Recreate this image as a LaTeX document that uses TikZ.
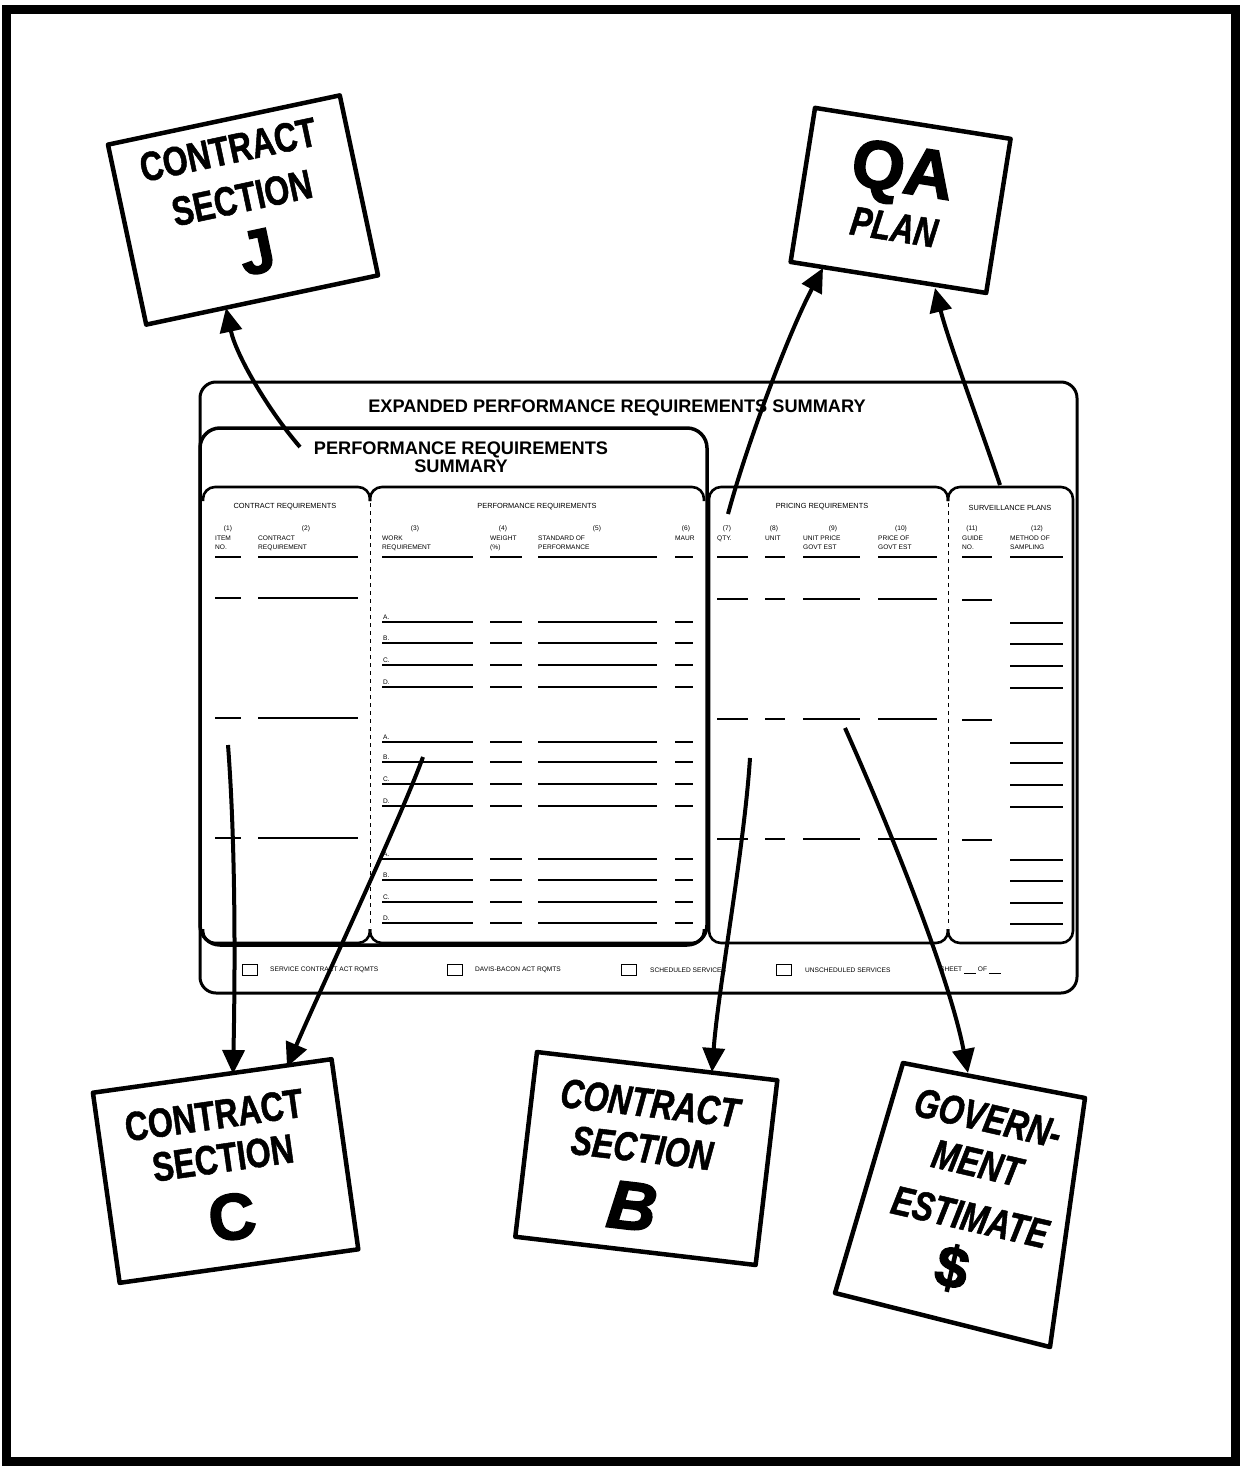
\documentclass[tikz,border=0pt]{standalone}
\usepackage{fontspec}
\setmainfont{Liberation Sans}
\newfontfamily\boxfont[FakeStretch=0.78,FakeBold=1.2]{Liberation Sans}
\newfontfamily\heavyfont[FakeBold=2.5]{Liberation Sans}
\usetikzlibrary{arrows.meta}
\newcommand\tinyf{\fontsize{6.6}{8.6}\selectfont}
\newcommand\hdrf{\fontsize{7.4}{9}\selectfont}
\newcommand\boxtxt{\boxfont\bfseries\fontsize{41}{41}\selectfont}
\tikzset{
  frame/.style={line width=9pt},
  panel/.style={line width=2.6pt, rounded corners=12pt},
  divider/.style={line width=0.6pt, dash pattern=on 4pt off 4pt},
  rowline/.style={line width=2pt},
  hdrline/.style={line width=1.4pt},
  conn/.style={line width=4pt, -{Triangle[length=24pt,width=22pt]}},
  docbox/.style={draw, fill=white, line width=4.5pt, line join=round, inner sep=0pt},
  ttl/.style={font=\fontsize{18.2}{18}\selectfont\bfseries, inner sep=0pt, align=center},
  colnum/.style={font=\tinyf, inner sep=0pt},
  colhdr/.style={font=\tinyf, inner sep=0pt, align=left, anchor=north west},
  panelhdr/.style={font=\hdrf, inner sep=0pt},
  rowlbl/.style={font=\tinyf, inner sep=0pt, anchor=south west},
  cbox/.style={draw, line width=1.5pt, minimum width=15pt, minimum height=11pt, inner sep=0pt},
  cbtxt/.style={font=\tinyf, inner sep=0pt, anchor=west},
  bigtxt/.style={inner sep=0pt, font=\boxtxt},
}
\begin{document}
\begin{tikzpicture}[x=1pt,y=-1pt]
\useasboundingbox (0,0) rectangle (1241,1469);
\fill[white] (0,0) rectangle (1241,1469);
\draw[frame] (6,10) rectangle (1235,1461);
\draw[line width=4pt] (4,10) -- (1237,10);

% ---------------- the form ----------------
\draw[line width=3pt, rounded corners=16pt] (200,382) rectangle (1077,993);
\node[ttl] (title) at (617,408) {EXPANDED PERFORMANCE REQUIREMENTS SUMMARY};
\draw[line width=3.5pt, rounded corners=20pt] (200,428) rectangle (707,945);
\node[ttl] (prs) at (461,457) {PERFORMANCE REQUIREMENTS\\SUMMARY};

% panel brackets
\draw[panel] (203,501) -- (203,487) -- (370,487) -- (370,501);
\draw[panel] (370,501) -- (370,487) -- (704,487) -- (704,501);
\draw[panel] (203,929) -- (203,943) -- (370,943) -- (370,929);
\draw[panel] (370,929) -- (370,943) -- (704,943) -- (704,929);
\draw[panel] (948,501) -- (948,487) -- (709,487) -- (709,943) -- (948,943) -- (948,929);
\draw[panel] (948,501) -- (948,487) -- (1073,487) -- (1073,943) -- (948,943) -- (948,929);
\draw[divider] (370,503) -- (370,927);
\draw[divider] (948,503) -- (948,927);

% panel headers
\node[panelhdr] (ph1) at (285,507) {CONTRACT REQUIREMENTS};
\node[panelhdr] (ph2) at (537,507) {PERFORMANCE REQUIREMENTS};
\node[panelhdr] (ph3) at (822,507) {PRICING REQUIREMENTS};
\node[panelhdr] (ph4) at (1010,508) {SURVEILLANCE PLANS};

% column headers
\node[colnum] (n1) at (228,529) {(1)};
\node[colhdr] (h1) at (215,536) {ITEM\\NO.};
\node[colnum] (n2) at (306,529) {(2)};
\node[colhdr] (h2) at (258,536) {CONTRACT\\REQUIREMENT};
\node[colnum] (n3) at (415,529) {(3)};
\node[colhdr] (h3) at (382,536) {WORK\\REQUIREMENT};
\node[colnum] (n4) at (503,529) {(4)};
\node[colhdr] (h4) at (490,536) {WEIGHT\\(\%)};
\node[colnum] (n5) at (597,529) {(5)};
\node[colhdr] (h5) at (538,536) {STANDARD OF\\PERFORMANCE};
\node[colnum] (n6) at (686,529) {(6)};
\node[colhdr] (h6) at (675,536) {MAUR};
\node[colnum] (n7) at (727,529) {(7)};
\node[colhdr] (h7) at (717,536) {QTY.};
\node[colnum] (n8) at (774,529) {(8)};
\node[colhdr] (h8) at (765,536) {UNIT};
\node[colnum] (n9) at (833,529) {(9)};
\node[colhdr] (h9) at (803,536) {UNIT PRICE\\GOVT EST};
\node[colnum] (n10) at (901,529) {(10)};
\node[colhdr] (h10) at (878,536) {PRICE OF\\GOVT EST};
\node[colnum] (n11) at (972,529) {(11)};
\node[colhdr] (h11) at (962,536) {GUIDE\\NO.};
\node[colnum] (n12) at (1037,529) {(12)};
\node[colhdr] (h12) at (1010,536) {METHOD OF\\SAMPLING};
\foreach \a/\b in {215/241,258/358,382/473,490/522,538/657,675/693,717/748,765/785,803/860,878/937,962/992,1010/1063}
  \draw[hdrline] (\a,557) -- (\b,557);

% rows
\foreach \y in {598,718,838} {
  \draw[rowline] (215,\y) -- (241,\y);
  \draw[rowline] (258,\y) -- (358,\y);
  \draw[rowline] (717,\y+1) -- (748,\y+1);
  \draw[rowline] (765,\y+1) -- (785,\y+1);
  \draw[rowline] (803,\y+1) -- (860,\y+1);
  \draw[rowline] (878,\y+1) -- (937,\y+1);
  \draw[rowline] (962,\y+2) -- (992,\y+2);
}
\foreach \y/\l [count=\i] in {622/A,643/B,665/C,687/D,742/A,762/B,784/C,806/D,859/A,880/B,902/C,923/D} {
  \node[rowlbl] (rl\i) at (383,\y-2) {\l.};
  \draw[rowline] (382,\y) -- (473,\y);
  \draw[rowline] (490,\y) -- (522,\y);
  \draw[rowline] (538,\y) -- (657,\y);
  \draw[rowline] (675,\y) -- (693,\y);
  \draw[rowline] (1010,\y+1) -- (1063,\y+1);
}

% check boxes
\node[cbox] (cb1) at (250,970) {};
\node[cbtxt] (ct1) at (270,970) {SERVICE CONTRACT ACT RQMTS};
\node[cbox] (cb2) at (455,970) {};
\node[cbtxt] (ct2) at (475,970) {DAVIS-BACON ACT RQMTS};
\node[cbox] (cb3) at (629,970) {};
\node[cbtxt] (ct3) at (650,970) {SCHEDULED SERVICES};
\node[cbox] (cb4) at (784,970) {};
\node[cbtxt] (ct4) at (805,970) {UNSCHEDULED SERVICES};
\node[cbtxt] (ct5) at (940,970) {SHEET \underline{\hspace{12pt}} OF \underline{\hspace{12pt}}};

% ---------------- documents ----------------
\begin{scope}[shift={(243,210)}, rotate=12, transform shape]
  \node[docbox, minimum width=237pt, minimum height=184pt] (boxJ) at (0,0) {};
  \node[bigtxt] (jt1) at (-2,-62) {CONTRACT};
  \node[bigtxt] (jt2) at (1.5,-12) {SECTION};
  \node[inner sep=0pt, font=\heavyfont\bfseries\fontsize{62}{62}\selectfont] (jt3) at (5,44) {J};
\end{scope}

\begin{scope}[shift={(900.6,200.4)}, rotate=-9, transform shape]
  \node[docbox, minimum width=198pt, minimum height=156pt] (boxQA) at (0,0) {};
  \node[inner sep=0pt, font=\heavyfont\bfseries\fontsize{68}{68}\selectfont] (qt1) at (-2.6,-25) {QA};
  \node[bigtxt, font=\boxtxt\itshape] (qt2) at (-2.4,27.3) {PLAN};
\end{scope}

\begin{scope}[shift={(225.6,1171)}, rotate=8, transform shape]
  \node[docbox, minimum width=241pt, minimum height=192pt] (boxC) at (0,0) {};
  \node[bigtxt] (ct1b) at (-3.7,-57) {CONTRACT};
  \node[bigtxt] (ct2b) at (-0.8,-13.3) {SECTION};
  \node[inner sep=0pt, font=\heavyfont\bfseries\fontsize{65}{65}\selectfont] (ct3b) at (0,46.4) {C};
\end{scope}

\begin{scope}[shift={(646.3,1158.5)}, rotate=-6.7, transform shape]
  \node[docbox, minimum width=242pt, minimum height=186pt] (boxB) at (0,0) {};
  \node[bigtxt, font=\boxtxt\itshape] (bt1) at (-2.8,-55.5) {CONTRACT};
  \node[bigtxt, font=\boxtxt\itshape] (bt2) at (-5.5,-9.9) {SECTION};
  \node[inner sep=0pt, font=\heavyfont\bfseries\itshape\fontsize{68}{68}\selectfont] (bt3) at (-8.6,48.9) {B};
\end{scope}

\draw[docbox] (903,1063) -- (1085,1098) -- (1050,1347) -- (835,1293) -- cycle;
\node[bigtxt, font=\boxtxt\itshape, rotate=-13] (gt1) at (988,1118) {GOVERN-};
\node[bigtxt, font=\boxtxt\itshape, rotate=-13] (gt2) at (977,1163) {MENT};
\node[bigtxt, font=\boxtxt\itshape, rotate=-13] (gt3) at (970,1217) {ESTIMATE};
\node[inner sep=0pt, rotate=-13, font=\heavyfont\bfseries\fontsize{58}{58}\selectfont] (gt4) at (952,1268) {\$};

% ---------------- connectors ----------------
\coordinate (jS) at (300,447);   \coordinate (jT) at (226,308);
\coordinate (qlS) at (728,514);  \coordinate (qlT) at (823,268);
\coordinate (qrS) at (1000,485); \coordinate (qrT) at (935,288);
\coordinate (clS) at (228,745);  \coordinate (clT) at (233,1074);
\coordinate (crS) at (423,757);  \coordinate (crT) at (287,1067);
\coordinate (bS) at (750,758);   \coordinate (bT) at (712,1072);
\coordinate (gS) at (845,728);   \coordinate (gT) at (968,1073);

\draw[conn] (jS) .. controls (268,410) and (236,355) .. (jT);
\draw[conn] (qlS) .. controls (748,440) and (790,330) .. (qlT);
\draw[conn] (qrS) .. controls (978,420) and (948,340) .. (qrT);
\draw[conn] (clS) .. controls (236,850) and (235,980) .. (clT);
\draw[conn] (crS) .. controls (400,820) and (320,990) .. (crT);
\draw[conn] (bS) .. controls (744,850) and (718,990) .. (bT);
\draw[conn] (gS) .. controls (895,840) and (950,980) .. (gT);
\end{tikzpicture}
\end{document}
